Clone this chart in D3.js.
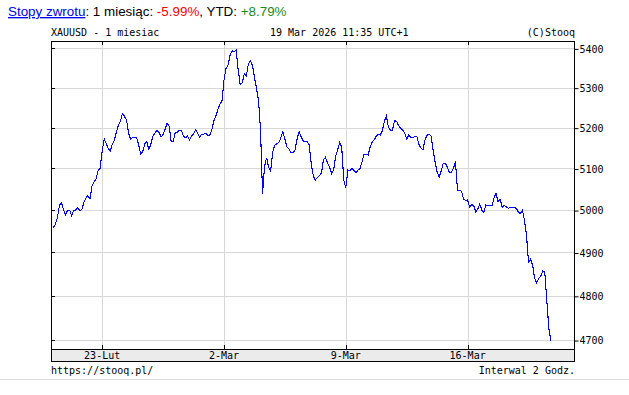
<!DOCTYPE html>
<html>
<head>
<meta charset="utf-8">
<script src="https://cdn.jsdelivr.net/npm/d3@7"></script>
<style>
  body { margin: 0; background: #fff; }
  svg text { font-family: "DejaVu Sans Mono", monospace; font-size: 10px; fill: #000; }
  svg .head text, svg text.head { font-family: "Liberation Sans", Arial, sans-serif; font-size: 13.4px; }
</style>
</head>
<body>
<script>
'use strict';

// XAUUSD, 2 hour bars, one value per bar (bar 0 = 19 Feb)
const prices = [
  4958, 4967, 4983, 5012, 5017, 5000, 4988, 5000, 5000, 4986,
  5000, 5000, 5006, 4998, 5001, 5019, 5029, 5034, 5027, 5058,
  5067, 5075, 5095, 5100, 5143, 5172, 5161, 5148, 5143, 5160,
  5168, 5189, 5206, 5216, 5235, 5228, 5219, 5187, 5171, 5176,
  5176, 5175, 5157, 5135, 5141, 5160, 5165, 5146, 5160, 5179,
  5187, 5193, 5188, 5177, 5183, 5196, 5211, 5204, 5165, 5165,
  5189, 5188, 5194, 5194, 5179, 5175, 5179, 5170, 5179, 5184,
  5195, 5187, 5177, 5184, 5184, 5186, 5181, 5181, 5194, 5217,
  5229, 5245, 5259, 5265, 5319, 5349, 5357, 5383, 5394, 5391,
  5396, 5345, 5307, 5313, 5335, 5329, 5360, 5368, 5357, 5326,
  5299, 5269, 5194, 5039, 5106, 5126, 5103, 5094, 5140, 5157,
  5160, 5163, 5175, 5190, 5172, 5153, 5148, 5138, 5138, 5145,
  5172, 5190, 5178, 5167, 5165, 5165, 5157, 5111, 5082, 5072,
  5078, 5082, 5089, 5121, 5127, 5114, 5103, 5088, 5096, 5130,
  5145, 5163, 5152, 5072, 5053, 5096, 5094, 5100, 5095, 5090,
  5096, 5100, 5116, 5135, 5135, 5133, 5152, 5165, 5170, 5179,
  5183, 5182, 5192, 5216, 5229, 5201, 5194, 5194, 5217, 5216,
  5205, 5199, 5194, 5187, 5172, 5182, 5176, 5175, 5178, 5179,
  5159, 5150, 5145, 5170, 5181, 5184, 5179, 5145, 5116, 5091,
  5079, 5094, 5113, 5113, 5103, 5090, 5090, 5100, 5117, 5048,
  5047, 5045, 5026, 5023, 5024, 5007, 5013, 5011, 4996, 5002,
  5014, 5000, 4995, 5012, 5010, 5011, 5010, 5029, 5040, 5019,
  5026, 5007, 5011, 5008, 5004, 5006, 5006, 5006, 5004, 4995,
  4992, 5000, 4976, 4941, 4877, 4884, 4871, 4840, 4830, 4840,
  4845, 4857, 4855, 4790, 4727, 4699
];

const yTicks = [4700, 4800, 4900, 5000, 5100, 5200, 5300, 5400];
const xTickLabels = ["23-Lut", "2-Mar", "9-Mar", "16-Mar"];
const xTickBars = [24, 84, 144, 204];

const title = "XAUUSD - 1 miesiac";
const stamp = "19 Mar 2026 11:35 UTC+1";

(function() {

  let svgContainer = "";

  // plot box
  const left = 51, right = 574, top = 41, bottom = 349, band = 12;

  window.onload = function() {
    svgContainer = d3.select('body')
      .append('svg')
      .attr('width', 629)
      .attr('height', 395);

    drawHeader();
    drawChart();
  }

  function drawHeader() {
    let t = svgContainer.append('text')
      .attr('class', 'head')
      .attr('x', 8)
      .attr('y', 16);
    t.append('tspan').text('Stopy zwrotu').style('fill', '#0000ee')
      .style('text-decoration', 'underline');
    t.append('tspan').text(': 1 miesiąc: ');
    t.append('tspan').text('-5.99%').style('fill', '#ff0000');
    t.append('tspan').text(', YTD: ');
    t.append('tspan').text('+8.79%').style('fill', '#1a8a1a');

    svgContainer.append('text').attr('x', left).attr('y', 36).text(title);
    svgContainer.append('text').attr('x', 270).attr('y', 36).text(stamp);
    svgContainer.append('text').attr('x', right + 1).attr('y', 36)
      .attr('text-anchor', 'end').text('(C)Stooq');

    svgContainer.append('text').attr('x', left).attr('y', 374).text('https://stooq.pl/');
    svgContainer.append('text').attr('x', right + 1).attr('y', 374)
      .attr('text-anchor', 'end').text('Interwal 2 Godz.');

    svgContainer.append('line')
      .attr('x1', 0).attr('x2', 629)
      .attr('y1', 379.5).attr('y2', 379.5)
      .attr('stroke', '#dcdcdc');
  }

  function drawChart() {
    let xScale = d3.scaleLinear()
      .domain([-1.2, 256.4])
      .range([left, right]);

    let yScale = d3.scaleLog()
      .domain([4680, 5419])
      .range([bottom, top]);

    const px = (v) => Math.round(v) + 0.5;

    // grid
    svgContainer.selectAll('.hgrid')
      .data(yTicks)
      .enter().append('line')
      .attr('x1', left).attr('x2', right)
      .attr('y1', (d) => px(yScale(d))).attr('y2', (d) => px(yScale(d)))
      .attr('stroke', '#d8d8d8');

    svgContainer.selectAll('.vgrid')
      .data(xTickBars)
      .enter().append('line')
      .attr('x1', (d) => px(xScale(d))).attr('x2', (d) => px(xScale(d)))
      .attr('y1', top).attr('y2', bottom)
      .attr('stroke', '#d8d8d8');

    // date band under the plot
    svgContainer.append('rect')
      .attr('x', left + 0.5).attr('y', bottom + 0.5)
      .attr('width', right - left).attr('height', band)
      .attr('fill', '#ebebeb').attr('stroke', '#000');

    // price line
    let line = d3.line()
      .x((d, i) => xScale(i))
      .y((d) => yScale(d));

    svgContainer.append('path')
      .datum(prices)
      .attr('d', line)
      .attr('fill', 'none')
      .attr('stroke', '#0000ff')
      .attr('stroke-width', 1.1)
      .style('shape-rendering', 'crispEdges');

    // frame
    svgContainer.append('rect')
      .attr('x', left + 0.5).attr('y', top + 0.5)
      .attr('width', right - left).attr('height', bottom + band - top)
      .attr('fill', 'none').attr('stroke', '#000');

    // right axis
    let yAxis = d3.axisRight(yScale)
      .tickValues(yTicks)
      .tickSize(4)
      .tickFormat(d3.format('d'));

    let ya = svgContainer.append('g')
      .attr('transform', 'translate(' + (right + 0.5) + ',0.5)')
      .call(yAxis);
    ya.select('.domain').remove();
    ya.selectAll('text').attr('x', 5).style('font-family', '"DejaVu Sans Mono", monospace')
      .style('font-size', '10px');

    // small inner ticks on the left edge
    svgContainer.selectAll('.lt')
      .data(yTicks)
      .enter().append('line')
      .attr('x1', left).attr('x2', left + 4)
      .attr('y1', (d) => px(yScale(d))).attr('y2', (d) => px(yScale(d)))
      .attr('stroke', '#000');

    // ticks on top edge and above the band
    svgContainer.selectAll('.tt')
      .data(xTickBars)
      .enter().append('line')
      .attr('x1', (d) => px(xScale(d))).attr('x2', (d) => px(xScale(d)))
      .attr('y1', top).attr('y2', top + 4)
      .attr('stroke', '#000');

    svgContainer.selectAll('.bt')
      .data(xTickBars)
      .enter().append('line')
      .attr('x1', (d) => px(xScale(d))).attr('x2', (d) => px(xScale(d)))
      .attr('y1', bottom - 4).attr('y2', bottom)
      .attr('stroke', '#000');

    svgContainer.selectAll('.xl')
      .data(xTickLabels)
      .enter().append('text')
      .attr('x', (d, i) => xScale(xTickBars[i]))
      .attr('y', bottom + 10)
      .attr('text-anchor', 'middle')
      .text((d) => d);
  }

})();
</script>
</body>
</html>
